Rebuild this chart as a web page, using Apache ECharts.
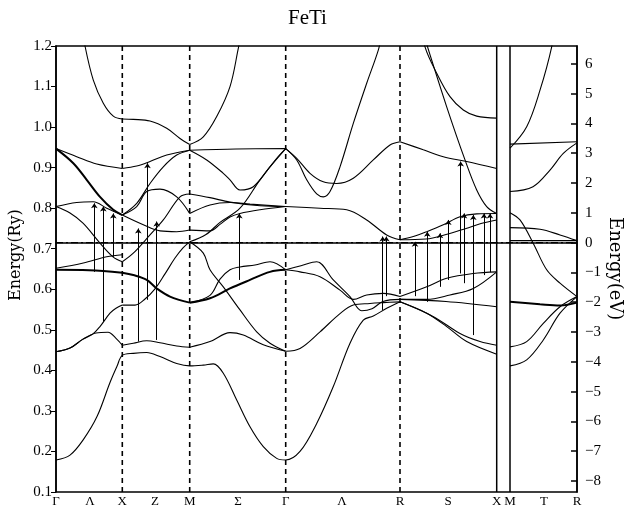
<!DOCTYPE html>
<html><head><meta charset="utf-8">
<script src="https://cdn.jsdelivr.net/npm/echarts@6/dist/echarts.min.js"></script>
<style>html,body{margin:0;padding:0;background:#fff}#c{width:624px;height:508px}</style>
</head><body><div id="c"></div>
<script>
// ---- axes / path (k in path units along the band path) ----
const EF = 0.715;            // Fermi level, Ry
const RY2EV = 13.6057;
const kMax = 521;
const kLabelPos = [0, 34, 66.3, 99, 133.7, 182, 229.7, 286, 344, 392, 440.7, 454, 488, 521];
const kLabels   = ['Γ','Λ','X','Z','M','Σ','Γ','Λ','R','S','X','M','T','R'];
const dashedK = [66.3, 133.7, 229.7, 344];
const solidK  = [440.7, 454];
const evTicks = [-8,-7,-6,-5,-4,-3,-2,-1,0,1,2,3,4,5,6];

// ---- bands: [k, E(Ry)] ----
const bandA1 = [[0,0.179],[14,0.191],[27,0.228],[41,0.286],[54,0.37],[61,0.41],[66.3,0.437],[77.3,0.442],[90.7,0.444],[104,0.434],[120.7,0.417],[133.7,0.411],[147.3,0.413],[157.3,0.416],[167.3,0.393],[180.7,0.327],[194,0.261],[207.3,0.212],[220.7,0.183],[229.7,0.179],[244,0.2],[260.7,0.269],[277.3,0.36],[294,0.467],[307.3,0.524],[317.3,0.534],[330.7,0.553],[344,0.569]];
// Gamma - X
const gx2 = [[0,0.446],[14,0.455],[27,0.477],[40,0.492],[52,0.494],[60,0.479],[66.3,0.462]];
const gx3 = [[0,0.446],[14,0.455],[27,0.477],[37,0.49],[44,0.508],[54,0.541],[60,0.553],[66.3,0.561]];
const gx4 = [[0,0.648],[33,0.647],[66.3,0.641]];
const gx5 = [[0,0.652],[27.3,0.665],[50.7,0.68],[66.3,0.685]];
const gx6 = [[0,0.804],[14,0.788],[27,0.763],[44,0.714],[57,0.68],[66.3,0.668]];
const gx7 = [[0,0.804],[20.7,0.814],[37.3,0.816],[50.7,0.80],[66.3,0.783]];
const gx8 = [[0,0.947],[17.3,0.911],[30.7,0.870],[44,0.828],[57.3,0.796],[66.3,0.783]];
const gx9 = [[0,0.947],[20.7,0.927],[40.7,0.909],[66.3,0.898]];
const gx10 = [[27,1.24],[29,1.2],[37.3,1.116],[47.3,1.059],[57.3,1.027],[66.3,1.02]];
// X - M
const xm2 = [[66.3,0.462],[77.3,0.467],[90.7,0.473],[104,0.468],[120.7,0.46],[133.7,0.457]];
const xm3 = [[66.3,0.561],[79,0.561],[89,0.576],[99,0.601],[109,0.638],[119,0.677],[127,0.702],[133.7,0.717]];
const xm4 = [[66.3,0.641],[77.3,0.635],[90.7,0.623],[100.7,0.602],[114,0.582],[133.7,0.567]];
const xm5 = [[66.3,0.668],[77.3,0.689],[94,0.734],[107.3,0.771],[124,0.828],[133.7,0.835]];
const xm6 = [[66.3,0.783],[80.7,0.804],[90.7,0.841],[104,0.847],[120.7,0.828],[133.7,0.787]];
const xm7 = [[66.3,0.783],[80.7,0.812],[94,0.861],[107.3,0.902],[120.7,0.931],[133.7,0.943]];
const xm8 = [[66.3,0.783],[87.3,0.759],[104,0.744],[120.7,0.742],[133.7,0.746]];
const xm9 = [[66.3,0.898],[80.7,0.904],[94,0.915],[110.7,0.931],[133.7,0.943]];
const xm10 = [[66.3,1.02],[77.3,1.019],[94,1.015],[110.7,0.997],[124,0.972],[133.7,0.957]];
// M - Gamma
const mg2 = [[133.7,0.457],[154,0.471],[174,0.493],[187.3,0.487],[207.3,0.463],[229.7,0.447]];
const mg3 = [[133.7,0.717],[147.3,0.689],[154,0.648],[167.3,0.606],[184,0.549],[200.7,0.495],[214,0.467],[229.7,0.447]];
const mg4 = [[133.7,0.567],[154,0.578],[174,0.602],[194,0.623],[214,0.643],[229.7,0.648]];
const mg5 = [[133.7,0.567],[154,0.585],[164,0.625],[174,0.648],[184,0.655],[199,0.66],[214,0.668],[229.7,0.648]];
const mg6 = [[133.7,0.746],[154,0.744],[164,0.76],[174,0.778],[184,0.787],[204,0.796],[229.7,0.804]];
const mg7 = [[133.7,0.787],[154,0.808],[174,0.814],[194,0.81],[229.7,0.804]];
const mg8 = [[133.7,0.835],[154,0.826],[174,0.815],[204,0.806],[229.7,0.804]];
const mg8b = [[133.7,0.717],[150,0.735],[164,0.765],[184,0.80],[204,0.87],[220.7,0.923],[229.7,0.947]];
const mg9 = [[133.7,0.943],[150.7,0.919],[167.3,0.886],[174,0.870],[184,0.845],[197.3,0.853],[214,0.902],[229.7,0.947]];
const mg10 = [[133.7,0.943],[180,0.946],[229.7,0.947]];
const mg11 = [[133.7,0.957],[147.3,0.976],[160.7,1.026],[174,1.1],[182.3,1.194],[186,1.24]];
// Gamma - R
const gr2 = [[229.7,0.447],[244,0.454],[264,0.495],[284,0.54],[297.3,0.561],[314,0.565],[327.3,0.567],[344,0.569]];
const gr3 = [[229.7,0.648],[245,0.658],[260.7,0.668],[277.3,0.623],[294,0.582],[305.7,0.547],[316,0.552],[327,0.57],[344,0.575]];
const gr4 = [[229.7,0.648],[244,0.643],[264,0.631],[284,0.598],[297.3,0.575],[310.7,0.586],[327.3,0.59],[344,0.582]];
const gr5 = [[229.7,0.804],[264,0.800],[290.7,0.796],[310.7,0.771],[330.7,0.734],[344,0.722]];
const gr6 = [[229.7,0.947],[240.7,0.919],[250.7,0.870],[260.7,0.835],[267.3,0.828],[274,0.841],[284,0.902],[297.3,1.009],[310.7,1.108],[322.3,1.19],[326,1.23]];
const gr7 = [[229.7,0.947],[240.7,0.923],[254,0.886],[267.3,0.865],[280.7,0.861],[297.3,0.874],[317.3,0.919],[334,0.956],[344,0.964]];
// R - X
const rx1 = [[344,0.569],[377,0.533],[404,0.491],[424,0.471],[440.7,0.462]];
const rx2 = [[344,0.569],[370.7,0.541],[390.7,0.508],[410.7,0.471],[440.7,0.44]];
const rx3 = [[344,0.964],[367.3,0.944],[387.3,0.927],[410.7,0.915],[440.7,0.898]];
const rx4 = [[365,1.26],[369,1.198],[380.7,1.133],[394,1.075],[407.3,1.042],[420.7,1.027],[440.7,1.022]];
const rx5 = [[370,1.21],[390.7,1.05],[409,0.919],[420.7,0.845],[430.7,0.804],[440.7,0.787]];
const rx6 = [[344,0.722],[357.3,0.73],[370.7,0.742],[387.3,0.759],[404,0.779],[420.7,0.786],[440.7,0.787]];
const rx7 = [[344,0.722],[370,0.724],[390,0.735],[410,0.75],[425,0.762],[440.7,0.771]];
const rx8 = [[344,0.582],[370.7,0.606],[390.7,0.627],[417.3,0.639],[440.7,0.643]];
const rx9 = [[344,0.575],[370.7,0.575],[394,0.586],[417.3,0.602],[440.7,0.643]];
const rx10 = [[344,0.575],[390,0.57],[440.7,0.557]];
// M - T - R
const mr1 = [[454,0.411],[470.7,0.426],[487.3,0.475],[504,0.541],[521,0.582]];
const mr2 = [[454,0.458],[470.7,0.471],[487.3,0.516],[504,0.557],[521,0.582]];
const mr3 = [[454,0.569],[484,0.563],[504,0.56],[521,0.567]];
const mr4 = [[454,0.789],[464,0.771],[477.3,0.713],[490.7,0.648],[504,0.615],[521,0.582]];
const mr5 = [[454,0.752],[484,0.748],[504,0.734],[521,0.72]];
const mr6 = [[454,0.72],[521,0.72]];
const mr7 = [[454,0.841],[477,0.853],[494,0.894],[507.3,0.935],[521,0.961]];
const mr8 = [[454,0.958],[521,0.964]];
const mr9 = [[454,0.948],[470.7,1.001],[484,1.091],[495.7,1.198],[500,1.27]];

const thinBands = [bandA1,gx2,gx3,gx5,gx6,gx7,gx9,gx10,xm2,xm3,xm5,xm6,xm7,xm8,xm9,xm10,
  mg2,mg3,mg5,mg6,mg7,mg8,mg8b,mg9,mg10,mg11,gr2,gr3,gr4,gr5,gr6,gr7,
  rx1,rx2,rx3,rx4,rx5,rx6,rx7,rx8,rx9,rx10,mr1,mr2,mr4,mr5,mr6,mr7,mr8,mr9];
const thickBands = [gx4,gx8,xm4,mg4,mr3];

// ---- transitions (arrows) ----
const arrowK    = [38.3, 47.3, 57.3, 82.3, 91.5, 100.7, 183.3, 326.7, 330.3, 359, 371.3, 384, 392.3, 404.7, 408, 417.3, 428, 434];
const arrowFrom = [0.643,0.520,0.680,0.471,0.574,0.475,0.623,0.549,0.583,0.583,0.569,0.606,0.623,0.639,0.615,0.487,0.635,0.642];
const arrowTo   = [0.812,0.804,0.787,0.750,0.911,0.767,0.787,0.730,0.730,0.717,0.742,0.738,0.771,0.915,0.787,0.783,0.787,0.787];

const FONT = 'Liberation Serif';
const series = [];
thinBands.forEach(d => series.push({type:'line', data:d, smooth:0.35, showSymbol:false, silent:true,
  lineStyle:{color:'#000', width:1.1}}));
thickBands.forEach(d => series.push({type:'line', data:d, smooth:0.35, showSymbol:false, silent:true,
  lineStyle:{color:'#000', width:2}}));
dashedK.forEach(k => series.push({type:'line', data:[[k,0.1],[k,1.2]], showSymbol:false, silent:true,
  lineStyle:{color:'#000', width:1.6, type:[5,4]}}));
solidK.forEach(k => series.push({type:'line', data:[[k,0.1],[k,1.2]], showSymbol:false, silent:true,
  lineStyle:{color:'#000', width:1.5}}));
series.push({type:'line', data:[[0,EF],[kMax,EF]], showSymbol:false, silent:true,
  lineStyle:{color:'#000', width:1.2, type:[7,3,2,3]}});
series.push({type:'lines', coordinateSystem:'cartesian2d', silent:true,
  symbol:['none','arrow'], symbolSize:[0,5],
  lineStyle:{color:'#000', width:1, opacity:1},
  data: arrowK.map((k,i)=>({coords:[[k,arrowFrom[i]],[k,arrowTo[i]]]}))});

const chart = echarts.init(document.getElementById('c'), null, {renderer:'canvas'});
chart.setOption({
  animation:false,
  backgroundColor:'#fff',
  title:{text:'FeTi', left:283, top:3,
    textStyle:{fontFamily:FONT, fontSize:21, fontWeight:'normal', color:'#000'}},
  grid:{left:56, right:47, top:46, bottom:16, containLabel:false, outerBoundsMode:'none',
    show:true, borderColor:'#000', borderWidth:1.5},
  graphic:[
    {type:'text', x:8, y:301, rotation:Math.PI/2,
     style:{text:'Energy(Ry)', fill:'#000', font:'16px "DejaVu Serif"', textVerticalAlign:'top'}},
    {type:'text', x:624, y:217, rotation:-Math.PI/2,
     style:{text:'Energy(eV)', fill:'#000', font:'18px "DejaVu Serif"', textVerticalAlign:'top'}}
  ],
  xAxis:{type:'value', min:0, max:kMax,
    axisLine:{lineStyle:{color:'#000', width:1.5}}, axisTick:{show:false}, splitLine:{show:false},
    axisLabel:{customValues:kLabelPos, formatter:v=>kLabels[kLabelPos.indexOf(v)],
      fontFamily:FONT, fontSize:13, color:'#000', margin:3}},
  yAxis:[
    {type:'value', min:0.1, max:1.2, interval:0.1, position:'left',
     axisLine:{show:true, lineStyle:{color:'#000', width:1.5}},
     axisTick:{show:true, length:5, lineStyle:{color:'#000'}}, splitLine:{show:false},
     axisLabel:{formatter:v=>v.toFixed(1), fontFamily:FONT, fontSize:15, color:'#000', margin:4}},
    {type:'value', min:(0.1-EF)*RY2EV, max:(1.2-EF)*RY2EV, position:'right',
     axisLine:{show:true, lineStyle:{color:'#000', width:1.5}},
     axisTick:{show:true, inside:true, length:6, customValues:evTicks, lineStyle:{color:'#000', width:1.5}},
     splitLine:{show:false},
     axisLabel:{customValues:evTicks, formatter:v=>String(Math.round(v)).replace('-','−'),
       fontFamily:FONT, fontSize:15, color:'#000', margin:8}}
  ],
  series: series
});
</script></body></html>
